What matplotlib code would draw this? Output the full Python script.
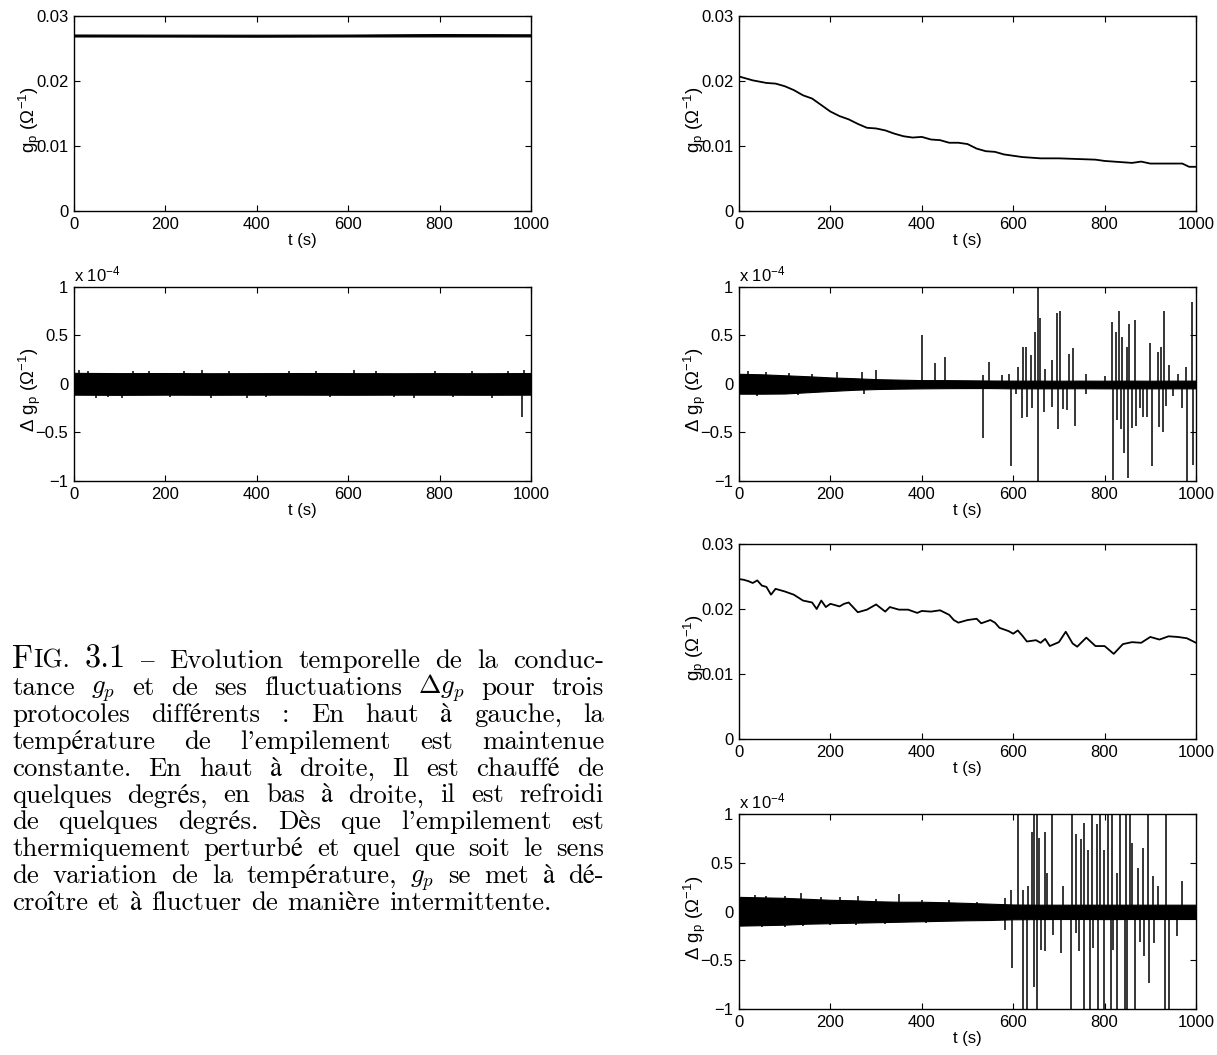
import matplotlib.pyplot as plt

plt.rcParams['font.family'] = ['Liberation Sans', 'DejaVu Sans']
plt.rcParams['mathtext.fontset'] = 'custom'
plt.rcParams['mathtext.rm'] = 'Liberation Sans'
plt.rcParams['mathtext.it'] = 'Liberation Sans:italic'
plt.rcParams['mathtext.bf'] = 'Liberation Sans:bold'

# Teljed
t_ticks = [0, 200, 400, 600, 800, 1000]
t_labels = ["0", "200", "400", "600", "800", "1000"]
gp_ticks = [0, 0.01, 0.02, 0.03]
gp_labels = ["0", "0.01", "0.02", "0.03"]
dg_ticks = [-1, -0.5, 0, 0.5, 1]
dg_labels = ["\u22121", "\u22120.5", "0", "0.5", "1"]

# Konstantne temperatuur: g_p riba
const_t = [0, 200, 400, 600, 800, 1000]
const_hi = [0.02715, 0.02713, 0.02712, 0.02714, 0.02722, 0.02718]
const_lo = [0.02685, 0.02684, 0.02682, 0.02685, 0.02686, 0.02686]

# Konstantne temperatuur: fluktuatsioonid (x 1e-4)
const_env_t = [0, 100, 200, 300, 400, 500, 600, 700, 800, 900, 1000]
const_env_hi = [0.115, 0.112, 0.113, 0.111, 0.112, 0.113, 0.112, 0.111, 0.112, 0.111, 0.113]
const_env_lo = [-0.11, -0.112, -0.11, -0.111, -0.11, -0.11, -0.111, -0.11, -0.11, -0.111, -0.11]
const_spk_t = [12, 30, 48, 75, 105, 130, 165, 210, 240, 280, 300, 340, 378, 420, 470, 530, 560,
               612, 660, 700, 745, 790, 830, 870, 915, 950, 980, 985]
const_spk_v = [0.14, 0.13, -0.14, -0.13, -0.14, 0.13, 0.135, -0.13, 0.13, 0.14, -0.145, 0.13, -0.14,
               -0.13, 0.13, 0.135, -0.13, 0.14, 0.135, -0.13, -0.145, 0.13, -0.13, 0.13, -0.14, 0.13,
               -0.345, 0.14]

# Soojendamine: g_p
heat_t = [0, 10, 30, 60, 80, 100, 120, 140, 160, 180, 200, 220, 240, 260, 280, 300,
          320, 340, 360, 380, 400, 420, 440, 460, 480, 500, 520, 540, 560, 580, 600,
          620, 640, 660, 700, 740, 780, 800, 820, 860, 880, 900, 940, 970, 985, 1000]
heat_gp = [0.0207, 0.0205, 0.0201, 0.0197, 0.0196, 0.0192, 0.0186, 0.0178, 0.0173, 0.0163,
           0.0153, 0.0146, 0.0141, 0.0134, 0.0128, 0.0127, 0.0124, 0.0119, 0.0115, 0.0113,
           0.0114, 0.0110, 0.0109, 0.0105, 0.0105, 0.0103, 0.0096, 0.0092, 0.0091, 0.0087,
           0.0085, 0.0083, 0.0082, 0.0081, 0.0081, 0.0080, 0.0079, 0.0077, 0.0076, 0.0074,
           0.0076, 0.0073, 0.0073, 0.0073, 0.0068, 0.0068]

# Soojendamine: fluktuatsioonid
env_t = [0, 50, 100, 150, 200, 250, 300, 350, 400, 450, 500, 550, 600, 650, 700, 750, 800, 850, 900, 950, 1000]
heat_env_hi = [0.105, 0.10, 0.09, 0.08, 0.068, 0.06, 0.05, 0.045, 0.04, 0.04, 0.038, 0.036,
               0.035, 0.035, 0.034, 0.035, 0.034, 0.035, 0.034, 0.035, 0.035]
heat_env_lo = [-0.10, -0.10, -0.098, -0.085, -0.072, -0.06, -0.052, -0.048, -0.045, -0.043, -0.042,
               -0.042, -0.045, -0.045, -0.045, -0.044, -0.045, -0.045, -0.045, -0.045, -0.045]
heat_up_t = [20, 60, 110, 160, 215, 269, 299, 400, 429, 451, 533, 547, 575, 590, 610, 621, 628, 640,
             648, 654, 659, 670, 685, 695, 703, 723, 731, 760, 800, 817, 826, 831, 838, 849, 854, 866,
             900, 916, 924, 931, 940, 960, 978, 991]
heat_up_v = [0.13, 0.12, 0.11, 0.1, 0.125, 0.125, 0.14, 0.5, 0.22, 0.28, 0.09, 0.23, 0.09, 0.1, 0.18,
             0.38, 0.38, 0.3, 0.54, 1.0, 0.68, 0.15, 0.25, 0.73, 0.75, 0.31, 0.37, 0.1, 0.08, 0.64, 0.54,
             0.75, 0.48, 0.38, 0.62, 0.66, 0.42, 0.33, 0.38, 0.75, 0.2, 0.1, 0.18, 0.85]
heat_dn_t = [40, 130, 274, 533, 596, 606, 619, 631, 641, 654, 668, 685, 697, 709, 717, 736, 760, 818,
             828, 835, 842, 852, 860, 869, 877, 884, 892, 904, 918, 927, 935, 950, 969, 981, 994]
heat_dn_v = [-0.12, -0.11, -0.1, -0.56, -0.85, -0.1, -0.35, -0.34, -0.25, -1.0, -0.29, -0.24, -0.46,
             -0.26, -0.27, -0.43, -0.1, -0.99, -0.37, -0.46, -0.71, -0.97, -0.45, -0.43, -0.25, -0.34,
             -0.34, -0.85, -0.44, -0.49, -0.23, -0.12, -0.25, -1.0, -0.83]

# Jahutamine: g_p
cool_t = [0, 10, 20, 30, 40, 50, 60, 70, 80, 100, 120, 140, 160, 170, 180, 190, 200, 220, 230, 240,
          260, 280, 300, 320, 330, 350, 370, 390, 400, 420, 440, 460, 470, 480, 500, 520, 530, 550,
          560, 570, 590, 600, 610, 620, 630, 650, 660, 670, 680, 700, 715, 730, 740, 760, 780, 800,
          820, 840, 860, 880, 900, 920, 940, 960, 980, 1000]
cool_gp = [0.0246, 0.0245, 0.0243, 0.0240, 0.0244, 0.0236, 0.0234, 0.0222, 0.0231, 0.0227,
           0.0222, 0.0213, 0.0210, 0.0200, 0.0213, 0.0203, 0.0208, 0.0204, 0.0208, 0.0210,
           0.0195, 0.0199, 0.0207, 0.0196, 0.0203, 0.0199, 0.0199, 0.0194, 0.0197, 0.0196,
           0.0198, 0.0191, 0.0183, 0.0179, 0.0183, 0.0185, 0.0178, 0.0183, 0.0179, 0.0171,
           0.0166, 0.0162, 0.0167, 0.0159, 0.0150, 0.0152, 0.0148, 0.0154, 0.0143, 0.0149,
           0.0165, 0.0147, 0.0142, 0.0156, 0.0143, 0.0143, 0.0131, 0.0146, 0.0149, 0.0148,
           0.0157, 0.0153, 0.0158, 0.0157, 0.0155, 0.0148]

# Jahutamine: fluktuatsioonid
cool_env_hi = [0.15, 0.145, 0.14, 0.13, 0.12, 0.115, 0.105, 0.10, 0.10, 0.095, 0.088, 0.08,
               0.072, 0.07, 0.07, 0.07, 0.07, 0.07, 0.07, 0.07, 0.07]
cool_env_lo = [-0.145, -0.14, -0.135, -0.125, -0.12, -0.115, -0.11, -0.105, -0.10, -0.095, -0.09,
               -0.087, -0.08, -0.078, -0.077, -0.077, -0.078, -0.077, -0.077, -0.077, -0.077]
cool_up_t = [35, 60, 100, 135, 180, 220, 260, 300, 350, 400, 460, 520, 582, 596, 610, 621, 633, 641,
             645, 651, 657, 669, 674, 684, 709, 729, 737, 748, 756, 764, 773, 784, 789, 799, 807, 817,
             827, 834, 846, 855, 860, 873, 885, 895, 905, 916, 934, 969]
cool_up_v = [0.17, 0.16, 0.16, 0.19, 0.15, 0.15, 0.16, 0.13, 0.18, 0.12, 0.12, 0.1, 0.14, 0.22, 1.0,
             0.22, 0.26, 0.82, 1.0, 1.0, 0.75, 0.82, 0.4, 1.0, 0.26, 1.0, 0.79, 0.74, 0.91, 0.63, 1.0,
             0.9, 1.0, 0.63, 1.0, 1.0, 0.4, 1.0, 1.0, 1.0, 0.7, 0.45, 0.65, 1.0, 0.36, 0.26, 1.0, 0.31]
cool_dn_t = [50, 100, 140, 200, 255, 320, 410, 583, 598, 621, 631, 645, 651, 661, 669, 686, 705, 727,
             737, 745, 756, 768, 774, 786, 799, 813, 819, 827, 845, 850, 866, 877, 887, 898, 909, 932,
             942, 959]
cool_dn_v = [-0.16, -0.16, -0.15, -0.14, -0.14, -0.13, -0.12, -0.19, -0.58, -1.0, -1.0, -0.77, -1.0,
             -0.39, -0.41, -0.24, -0.43, -1.0, -0.22, -0.41, -1.0, -1.0, -0.37, -1.0, -1.0, -1.0,
             -0.39, -1.0, -1.0, -1.0, -1.0, -0.31, -0.46, -0.73, -0.32, -1.0, -1.0, -0.25]

cap_lines = [
    "FIG. 3.1 \u2013 Evolution temporelle de la conduc-",
    "tance $g_p$ et de ses fluctuations $\\Delta{}g_p$ pour trois",
    "protocoles diff\u00e9rents : En haut \u00e0 gauche, la",
    "temp\u00e9rature de l'empilement est maintenue",
    "constante. En haut \u00e0 droite, Il est chauff\u00e9 de",
    "quelques degr\u00e9s, en bas \u00e0 droite, il est refroidi",
    "de quelques degr\u00e9s. D\u00e8s que l'empilement est",
    "thermiquement perturb\u00e9 et quel que soit le sens",
    "de variation de la temp\u00e9rature, $g_p$ se met \u00e0 d\u00e9-",
    "cro\u00eetre et \u00e0 fluctuer de mani\u00e8re intermittente.",
]

W, H = 1217, 1055
fig = plt.figure(figsize=(W / 100, H / 100), dpi=100)

left_x, right_x, ax_w = 74 / W, 739 / W, 457 / W
rows = [(16, 211), (287, 481), (544, 739), (814, 1009)]


def axes_at(x0, row):
    top, bot = rows[row]
    return fig.add_axes([x0, 1 - bot / H, ax_w, (bot - top) / H])


def style(ax, kind):
    ax.set_xlim(0, 1000)
    ax.set_xticks(t_ticks)
    ax.set_xticklabels(t_labels)
    if kind == "gp":
        ax.set_ylim(0, 0.03)
        ax.set_yticks(gp_ticks)
        ax.set_yticklabels(gp_labels)
        ax.set_ylabel(r"g$_{\rm p}$ ($\Omega^{-1}$)", fontsize=13.5)
    else:
        ax.set_ylim(-1, 1)
        ax.set_yticks(dg_ticks)
        ax.set_yticklabels(dg_labels)
        ax.set_ylabel(r"$\Delta$ g$_{\rm p}$ ($\Omega^{-1}$)", fontsize=13.5)
        ax.text(0, 1.031, r"x 10$^{-4}$", transform=ax.transAxes, ha="left", va="baseline", fontsize=12)
    ax.tick_params(direction="in", length=4, width=0.8, top=True, right=True, labelsize=12, pad=4)
    ax.set_xlabel("t (s)", fontsize=12, labelpad=1)
    ax.yaxis.set_label_coords(-0.068, 0.47)
    for s in ax.spines.values():
        s.set_linewidth(1.0)


def fluct(ax, et, hi, lo, ut, uv, dt, dv):
    ax.fill_between(et, lo, hi, color="k", linewidth=0.8)
    ax.vlines(ut, 0, uv, color="k", linewidth=1.1)
    ax.vlines(dt, 0, dv, color="k", linewidth=1.1)


# Vasak veerg
ax = axes_at(left_x, 0)
ax.fill_between(const_t, const_lo, const_hi, color="k", linewidth=0.8)
style(ax, "gp")

ax = axes_at(left_x, 1)
fluct(ax, const_env_t, const_env_hi, const_env_lo, const_spk_t, const_spk_v, [], [])
style(ax, "dg")

# Parem veerg
ax = axes_at(right_x, 0)
ax.plot(heat_t, heat_gp, color="k", linewidth=1.3)
style(ax, "gp")

ax = axes_at(right_x, 1)
fluct(ax, env_t, heat_env_hi, heat_env_lo, heat_up_t, heat_up_v, heat_dn_t, heat_dn_v)
style(ax, "dg")

ax = axes_at(right_x, 2)
ax.plot(cool_t, cool_gp, color="k", linewidth=1.3)
style(ax, "gp")

ax = axes_at(right_x, 3)
fluct(ax, env_t, cool_env_hi, cool_env_lo, cool_up_t, cool_up_v, cool_dn_t, cool_dn_v)
style(ax, "dg")

# Allkiri, rööpjoondatud
serif = ["cmr10", "STIXGeneral"]
renderer = fig.canvas.get_renderer()


def pieces(word, size):
    if word == "FIG.":
        return [("F", size * 1.2), ("IG.", size * 0.96)]
    if word == "3.1":
        return [("3.1", size * 1.2)]
    return [(word, size)]


def make_word(word, size):
    out = []
    for txt, sz in pieces(word, size):
        t = fig.text(0, 0, txt, fontsize=sz, family=serif, math_fontfamily="cm",
                     ha="left", va="baseline")
        out.append((t, t.get_window_extent(renderer).width))
    return out


# fondi suurus tihedaima rea järgi
test = [make_word(w, 10) for w in cap_lines[7].split(" ")]
nat = sum(w for wd in test for _, w in wd) + (len(test) - 1) * 0.333 * 10 * 100 / 72
for wd in test:
    for t, _ in wd:
        t.remove()
size = 10 * 562 / nat

x_l, x_r = 12, 604
for i, line in enumerate(cap_lines):
    words = [make_word(w, size) for w in line.split(" ")]
    total = sum(w for wd in words for _, w in wd)
    if i < len(cap_lines) - 1:
        gap = (x_r - x_l - total) / (len(words) - 1)
    else:
        gap = 0.36 * size * 100 / 72
    y = 1 - (668 + 26.9 * i) / H
    x = x_l
    for wd in words:
        for t, w in wd:
            t.set_position((x / W, y))
            x += w
        x += gap

fig.savefig("out.png", dpi=100)
